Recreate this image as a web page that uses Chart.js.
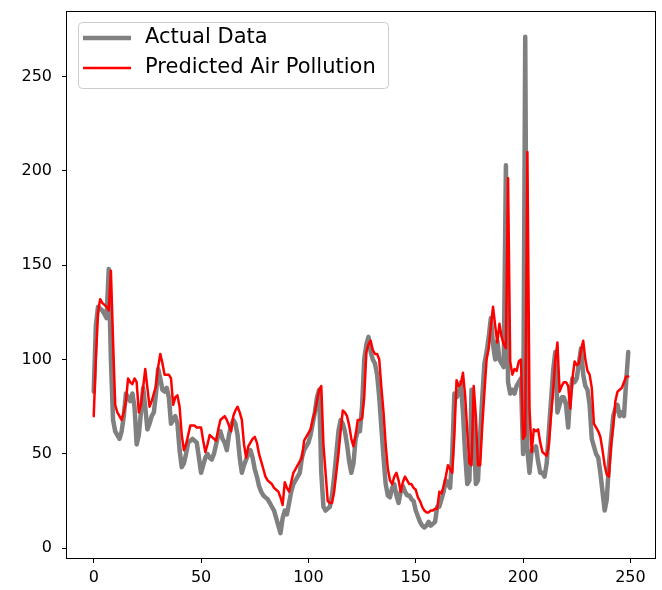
<!DOCTYPE html>
<html>
<head>
<meta charset="utf-8">
<script src="https://cdn.jsdelivr.net/npm/chart.js@4.4.0/dist/chart.umd.min.js"></script>
<style>
  html, body { margin: 0; padding: 0; background: #fff; }
  #wrap { width: 662px; height: 590px; position: relative; }
</style>
</head>
<body>
<div id="wrap"><canvas id="chart"></canvas></div>
<script>
// ===== Data =====
const seriesLabels = ['Actual Data', 'Predicted Air Pollution'];

const actualData = [
  83, 118, 128, 127, 126, 124, 122, 148, 100, 68,
  62, 60, 58, 62, 70, 82, 80, 78, 82, 75,
  55, 60, 72, 85, 75, 63, 66, 70, 72, 82,
  95, 90, 84, 83, 85, 80, 66, 68, 70, 66,
  52, 43, 45, 50, 56, 57, 58, 57, 56, 48,
  40, 44, 48, 50, 48, 47, 50, 55, 60, 62,
  58, 56, 52, 60, 65, 68, 66, 60, 48, 40,
  44, 47, 50, 52, 48, 42, 38, 33, 30, 28,
  27, 26, 24, 22, 20, 16, 12, 8, 16, 20,
  18, 24, 30, 34, 36, 38, 40, 48, 52, 54,
  56, 60, 66, 72, 80, 84, 40, 22, 20, 21,
  22, 28, 38, 50, 62, 68, 66, 62, 55, 46,
  40, 45, 58, 62, 62, 75, 100, 108, 112, 104,
  100, 98, 92, 80, 64, 48, 34, 28, 27, 32,
  34, 28, 24, 30, 33, 30, 28, 28, 26, 25,
  20, 17, 14, 12, 11, 12, 14, 12, 13, 14,
  22, 22, 26, 30, 36, 34, 32, 50, 82, 80,
  82, 88, 72, 50, 34, 36, 84, 64, 34, 36,
  60, 80, 98, 104, 112, 122, 108, 100, 110, 100,
  98, 96, 203, 88, 82, 84, 82, 86, 88, 90,
  50, 271, 52, 40, 52, 52, 54, 46, 40, 40,
  38, 45, 62, 78, 94, 104, 72, 76, 80, 80,
  76, 64, 82, 90, 88, 90, 98, 106, 92, 86,
  84, 76, 58, 54, 50, 48, 40, 30, 20, 26,
  45, 58, 70, 74, 76, 70, 72, 70, 88, 104
];

const predictedData = [
  70, 100, 125, 132, 130, 129, 128, 126, 147, 110,
  76, 72, 70, 68, 72, 78, 90, 88, 87, 90,
  88, 72, 76, 85, 95, 85, 75, 78, 82, 86,
  96, 103, 98, 92, 92, 92, 90, 76, 80, 81,
  75, 60, 52, 55, 60, 65, 65, 65, 64, 64,
  64, 57, 51, 55, 60, 59, 58, 57, 63, 68,
  69, 70, 68, 65, 62, 70, 73, 75, 72, 68,
  55, 48, 54, 56, 58, 59, 56, 50, 46, 42,
  38, 36, 35, 34, 32, 31, 30, 27, 23, 35,
  32, 30, 35, 40, 42, 44, 46, 48, 57, 59,
  61, 63, 68, 72, 78, 84, 86, 55, 40, 25,
  24, 24, 30, 40, 50, 62, 73, 72, 70, 65,
  58, 54, 60, 68, 68, 69, 80, 104, 108, 110,
  105, 103, 103, 100, 85, 72, 55, 42, 36, 34,
  38, 40, 36, 30, 35, 38, 36, 34, 34, 32,
  31, 27, 25, 22, 20, 19, 19, 20, 20, 21,
  21, 30, 29, 33, 38, 44, 42, 40, 60, 89,
  86, 87, 93, 81, 62, 45, 44, 86, 70, 44,
  44, 65, 83, 100, 106, 118, 128, 118, 109, 119,
  112, 108, 106, 196, 99, 92, 95, 94, 99, 100,
  58, 60, 210, 74, 51, 63, 62, 63, 56, 51,
  50, 49, 55, 70, 83, 100, 109, 83, 86, 88,
  88, 86, 74, 90, 99, 97, 98, 105, 110, 100,
  94, 92, 85, 66, 64, 62, 59, 52, 44, 39,
  38, 55, 65, 78, 83, 84, 85, 88, 91, 91
];

const xTicks = [0, 50, 100, 150, 200, 250];
const yTicks = [0, 50, 100, 150, 200, 250];

// ===== Styles =====
const colors = {
  actual: '#808080',
  predicted: '#ff0000',
  axis: '#000000',
  text: '#000000',
  legendEdge: '#cccccc'
};
const tickFont = { family: '"DejaVu Sans", sans-serif', size: 16 };

// matplotlib-like 5% margins around the data
const xLo = 0, xHi = actualData.length - 1;
const xPad = (xHi - xLo) * 0.05;
const allVals = actualData.concat(predictedData);
const yLo = Math.min(...allVals), yHi = Math.max(...allVals);
const yPad = (yHi - yLo) * 0.05;

const toPoints = arr => arr.map((v, i) => ({ x: i, y: v }));

// box around the plot (all four spines)
const framePlugin = {
  id: 'frame',
  afterDatasetsDraw(chart) {
    const { ctx, chartArea: a } = chart;
    ctx.save();
    ctx.strokeStyle = colors.axis;
    ctx.lineWidth = 1;
    ctx.strokeRect(a.left - 0.5, a.top - 0.5, a.right - a.left + 1, a.bottom - a.top + 1);
    ctx.restore();
  }
};

// legend in the upper left, inside the axes
const boxLegend = {
  id: 'boxLegend',
  afterDraw(chart) {
    const { ctx, chartArea: a } = chart;
    const x0 = a.left + 11, y0 = a.top + 10, w = 310, h = 66;
    ctx.save();
    ctx.beginPath();
    ctx.roundRect(x0 + 0.5, y0 + 0.5, w, h, 4);
    ctx.fillStyle = 'rgba(255,255,255,0.8)';
    ctx.fill();
    ctx.strokeStyle = colors.legendEdge;
    ctx.lineWidth = 1;
    ctx.stroke();

    ctx.font = '21px "DejaVu Sans", sans-serif';
    ctx.textBaseline = 'middle';
    ctx.textAlign = 'left';
    chart.data.datasets.forEach((ds, k) => {
      const cy = y0 + 16 + k * 30;
      ctx.beginPath();
      ctx.moveTo(x0 + 5, cy);
      ctx.lineTo(x0 + 53, cy);
      ctx.strokeStyle = ds.borderColor;
      ctx.lineWidth = ds.borderWidth;
      ctx.stroke();
      ctx.fillStyle = colors.text;
      ctx.fillText(ds.label, x0 + 67, cy);
    });
    ctx.restore();
  }
};

new Chart(document.getElementById('chart'), {
  type: 'line',
  data: {
    datasets: [
      {
        label: seriesLabels[0],
        data: toPoints(actualData),
        borderColor: colors.actual,
        borderWidth: 4.5,
        order: 1
      },
      {
        label: seriesLabels[1],
        data: toPoints(predictedData),
        borderColor: colors.predicted,
        borderWidth: 2.5,
        order: 0
      }
    ]
  },
  options: {
    responsive: true,
    maintainAspectRatio: false,
    animation: false,
    devicePixelRatio: 1,
    layout: { padding: { top: 12, right: 7, left: 0, bottom: 0 } },
    elements: {
      point: { radius: 0 },
      line: { tension: 0, borderJoinStyle: 'round', borderCapStyle: 'round', fill: false }
    },
    plugins: {
      legend: { display: false },
      tooltip: { enabled: false }
    },
    scales: {
      x: {
        type: 'linear',
        min: xLo - xPad,
        max: xHi + xPad,
        afterBuildTicks: axis => { axis.ticks = xTicks.map(v => ({ value: v })); },
        afterFit: axis => { axis.height = 32; axis.paddingLeft = 0; axis.paddingRight = 0; },
        border: { display: false },
        grid: { drawOnChartArea: false, drawTicks: true, tickLength: 5, color: colors.axis },
        ticks: { color: colors.text, font: tickFont, padding: 5, maxRotation: 0 }
      },
      y: {
        type: 'linear',
        min: yLo - yPad,
        max: yHi + yPad,
        afterBuildTicks: axis => { axis.ticks = yTicks.map(v => ({ value: v })); },
        afterFit: axis => { axis.width = 67; axis.paddingTop = 0; axis.paddingBottom = 0; },
        border: { display: false },
        grid: { drawOnChartArea: false, drawTicks: true, tickLength: 5, color: colors.axis },
        ticks: { color: colors.text, font: tickFont, padding: 10 }
      }
    }
  },
  plugins: [framePlugin, boxLegend]
});
</script>
</body>
</html>
